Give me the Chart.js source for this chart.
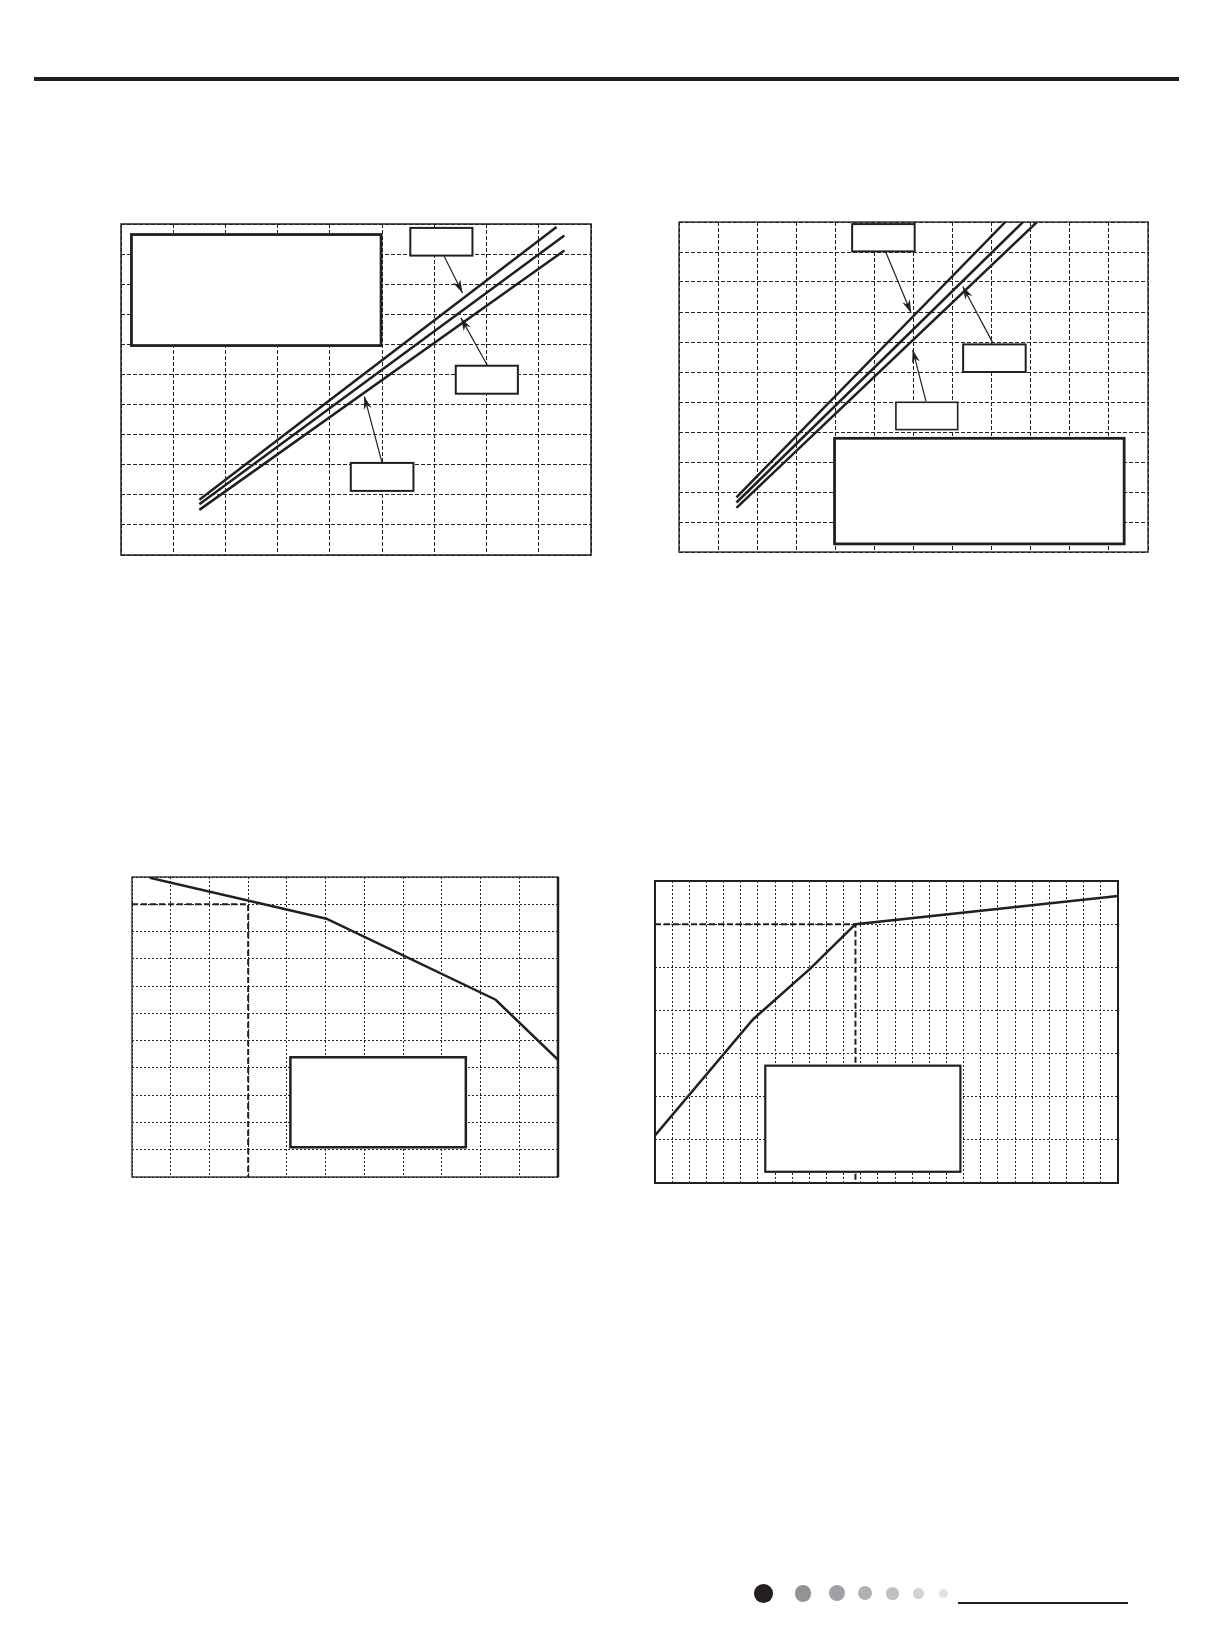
<!DOCTYPE html>
<html>
<head>
<meta charset="utf-8">
<script src="https://cdn.jsdelivr.net/npm/chart.js@4.4.1/dist/chart.umd.min.js"></script>
<style>
body{margin:0;background:#fff;}
#page{position:relative;width:1213px;height:1644px;overflow:hidden;background:#fff;}
canvas{position:absolute;}
.rule{position:absolute;background:#231f20;}
.dot{position:absolute;border-radius:50%;}
</style>
</head>
<body>
<div id="page">
<div class="rule" style="left:34px;top:77px;width:1145px;height:4px"></div>
<canvas id="c1"></canvas>
<canvas id="c2"></canvas>
<canvas id="c3"></canvas>
<canvas id="c4"></canvas>
<div class="rule" style="left:958px;top:1602px;width:170px;height:2px"></div>
</div>
<script>
// chart 1 : three straight lines, grid 9 x 11
const c1XMax = 9, c1YMax = 11;
const c1UpperX = [1.5, 8.34], c1UpperY = [1.84, 10.9];
const c1MidX = [1.5, 8.49], c1MidY = [1.69, 10.62];
const c1LowX = [1.5, 8.49], c1LowY = [1.5, 10.12];

// chart 2 : three straight lines, grid 12 x 11
const c2XMax = 12, c2YMax = 11;
const c2UpperX = [1.47, 8.35], c2UpperY = [1.82, 11];
const c2MidX = [1.47, 8.8], c2MidY = [1.65, 11];
const c2LowX = [1.47, 9.16], c2LowY = [1.47, 11];

// chart 3 : falling curve, grid 11 x 11
const c3XMax = 11, c3YMax = 11;
const c3X = [0.46, 5.02, 9.39, 11];
const c3Y = [10.97, 9.47, 6.5, 4.3];
const c3RefX = [0, 3, 3], c3RefY = [10, 10, 0];

// chart 4 : rising curve, grid 27 x 7
const c4XMax = 27, c4YMax = 7;
const c4X = [0, 5.71, 9.05, 11.69, 27];
const c4Y = [1.1, 3.79, 4.97, 6.0, 6.65];
const c4RefX = [0, 11.69, 11.69], c4RefY = [6, 6, 0];

const INK = '#231f20';
const PAD = 6;

function pts(xs, ys) {
	return xs.map((v, i) => ({x: v, y: ys[i]}));
}

function curve(xs, ys, w) {
	return {data: pts(xs, ys), borderColor: INK, borderWidth: w || 2.5, pointRadius: 0, tension: 0, fill: false};
}

function refLine(xs, ys) {
	return {data: pts(xs, ys), borderColor: INK, borderWidth: 2, borderDash: [6, 3], pointRadius: 0, fill: false};
}

// boxes, arrows and frame drawn on top, in value coordinates
const notesPlugin = {
	id: 'notes',
	afterDatasetsDraw(chart, args, opts) {
		const ctx = chart.ctx, a = chart.chartArea;
		const x = chart.scales.x, y = chart.scales.y;
		ctx.save();
		(opts.boxes || []).forEach(b => {
			const l = x.getPixelForValue(b[0]), r = x.getPixelForValue(b[1]);
			const t = y.getPixelForValue(b[2]), bt = y.getPixelForValue(b[3]);
			ctx.fillStyle = '#fff';
			ctx.fillRect(l, t, r - l, bt - t);
			ctx.lineWidth = b[4];
			ctx.strokeStyle = INK;
			ctx.strokeRect(l, t, r - l, bt - t);
		});
		(opts.arrows || []).forEach(ar => {
			const x0 = x.getPixelForValue(ar[0]), y0 = y.getPixelForValue(ar[1]);
			const x1 = x.getPixelForValue(ar[2]), y1 = y.getPixelForValue(ar[3]);
			const c = Math.cos(Math.atan2(y1 - y0, x1 - x0)), s = Math.sin(Math.atan2(y1 - y0, x1 - x0));
			ctx.strokeStyle = INK;
			ctx.fillStyle = INK;
			ctx.lineWidth = 1.2;
			ctx.beginPath();
			ctx.moveTo(x0, y0);
			ctx.lineTo(x1, y1);
			ctx.stroke();
			ctx.beginPath();
			ctx.moveTo(x1, y1);
			ctx.lineTo(x1 - 13 * c + 4 * s, y1 - 13 * s - 4 * c);
			ctx.lineTo(x1 - 9 * c, y1 - 9 * s);
			ctx.lineTo(x1 - 13 * c - 4 * s, y1 - 13 * s + 4 * c);
			ctx.closePath();
			ctx.fill();
		});
		ctx.lineWidth = opts.frame || 1.5;
		ctx.strokeStyle = INK;
		ctx.strokeRect(a.left, a.top, a.width, a.height);
		if (opts.rightEdge) {
			ctx.lineWidth = opts.rightEdge;
			ctx.beginPath();
			ctx.moveTo(a.right, a.top);
			ctx.lineTo(a.right, a.bottom);
			ctx.stroke();
		}
		ctx.restore();
	}
};

function axis(max, dash, horizontal) {
	return {
		type: 'linear', min: 0, max: max,
		ticks: {display: false, stepSize: 1, autoSkip: false, maxTicksLimit: 200},
		grid: {color: '#222', lineWidth: 1, drawTicks: false},
		border: {display: false, dash: dash},
		afterFit(s) { if (horizontal) s.height = 0; else s.width = 0; }
	};
}

function makeChart(id, box, xMax, yMax, dash, datasets, notes) {
	const cv = document.getElementById(id);
	cv.width = box.w + 2 * PAD;
	cv.height = box.h + 2 * PAD;
	cv.style.left = (box.x - PAD) + 'px';
	cv.style.top = (box.y - PAD) + 'px';
	return new Chart(cv, {
		type: 'line',
		data: {datasets: datasets},
		plugins: [notesPlugin],
		options: {
			responsive: false,
			animation: false,
			events: [],
			layout: {padding: PAD},
			scales: {x: axis(xMax, dash, true), y: axis(yMax, dash, false)},
			plugins: {legend: {display: false}, tooltip: {enabled: false}, notes: notes}
		}
	});
}

makeChart('c1', {x: 121.3, y: 224.3, w: 470.4, h: 331}, c1XMax, c1YMax, [4, 2], [
	curve(c1UpperX, c1UpperY), curve(c1MidX, c1MidY), curve(c1LowX, c1LowY)
], {
	frame: 1.5,
	boxes: [[0.2, 4.98, 10.65, 6.96, 2.8], [5.54, 6.73, 10.87, 9.95, 2], [6.41, 7.6, 6.29, 5.36, 2], [4.4, 5.6, 3.06, 2.13, 2]],
	arrows: [[6.19, 9.92, 6.54, 8.71], [7.02, 6.29, 6.51, 7.88], [5.0, 3.06, 4.66, 5.27]]
});

makeChart('c2', {x: 679.3, y: 222.3, w: 469.4, h: 330}, c2XMax, c2YMax, [4, 2], [
	curve(c2UpperX, c2UpperY), curve(c2MidX, c2MidY), curve(c2LowX, c2LowY)
], {
	frame: 1.3,
	boxes: [[4.43, 6.03, 10.93, 10.02, 2], [7.27, 8.87, 6.92, 6.0, 2], [5.55, 7.13, 4.99, 4.08, 1.6], [3.98, 11.39, 3.79, 0.27, 2.8]],
	arrows: [[5.3, 9.97, 5.94, 7.97], [8.03, 6.97, 7.26, 8.85], [6.32, 5.02, 5.98, 6.74]]
});

makeChart('c3', {x: 132.3, y: 877.3, w: 426, h: 300}, c3XMax, c3YMax, [2, 2], [
	curve(c3X, c3Y), refLine(c3RefX, c3RefY)
], {
	frame: 1.3,
	rightEdge: 2.5,
	boxes: [[4.09, 8.62, 4.39, 1.09, 2.5]],
	arrows: []
});

makeChart('c4', {x: 655.3, y: 880.7, w: 463.4, h: 302}, c4XMax, c4YMax, [2, 2], [
	curve(c4X, c4Y), refLine(c4RefX, c4RefY)
], {
	frame: 2,
	boxes: [[6.43, 17.81, 2.72, 0.26, 2.2]],
	arrows: []
});

// page-number dots
const dotX = [763.3, 803, 837, 865.3, 892.7, 918.7, 943.3];
const dotR = [9.3, 8.3, 8, 7, 6.3, 5.3, 4.3];
const dotC = ['#231f20', '#939396', '#a0a1a4', '#b0b1b3', '#bfc0c2', '#d1d2d3', '#e2e2e3'];
const page = document.getElementById('page');
dotX.forEach((cx, i) => {
	const d = document.createElement('div');
	d.className = 'dot';
	d.style.left = (cx - dotR[i]) + 'px';
	d.style.top = (1593.3 - dotR[i]) + 'px';
	d.style.width = d.style.height = (2 * dotR[i]) + 'px';
	d.style.background = dotC[i];
	page.appendChild(d);
});
</script>
</body>
</html>
